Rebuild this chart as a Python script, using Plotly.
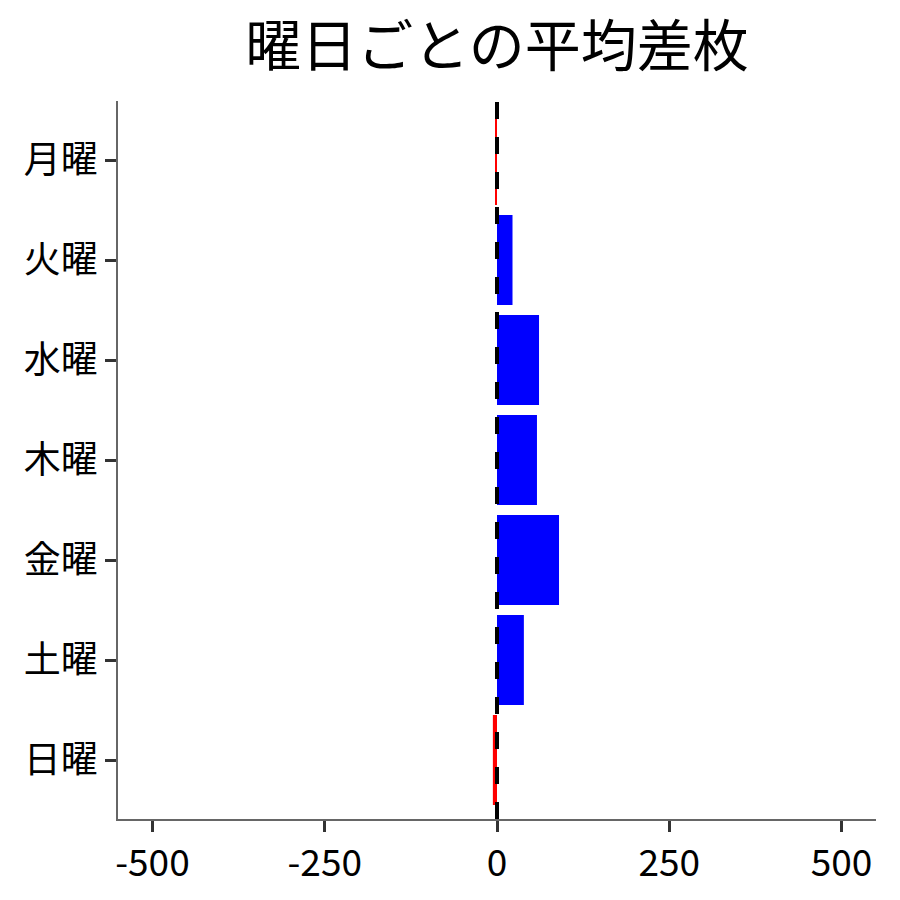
import plotly.graph_objects as go

# 曜日ごとの平均差枚
days = ["月曜", "火曜", "水曜", "木曜", "金曜", "土曜", "日曜"]
avg_diff = [-1.5, 22.5, 61, 58, 90, 39, -6]
x_ticks = [-500, -250, 0, 250, 500]

colors = ["red" if v < 0 else "blue" for v in avg_diff]

font_jp = "Noto Sans CJK JP"

fig = go.Figure()
fig.add_trace(go.Bar(
    x=avg_diff,
    y=days,
    orientation="h",
    width=0.9,
    marker=dict(color=colors, line=dict(width=0)),
    showlegend=False,
))

# zero line, dashed, on top of the bars
fig.add_shape(
    type="line", xref="x", yref="paper",
    x0=0, x1=0, y0=0, y1=1,
    line=dict(color="black", width=4, dash="17px,18px"),
    layer="above",
)

fig.update_layout(
    width=900, height=900,
    paper_bgcolor="white", plot_bgcolor="white",
    margin=dict(l=110, r=32, t=93, b=89),
    font=dict(family=font_jp, color="black", size=37),
    title=dict(
        text="曜日ごとの平均差枚",
        font=dict(family=font_jp, size=56, color="black"),
        xref="paper", x=0.5, xanchor="center",
        yref="container", y=0.957, yanchor="middle",
    ),
    bargap=0.1,
)

fig.update_xaxes(
    range=[-550, 550],
    tickvals=x_ticks,
    ticktext=[str(v) for v in x_ticks],
    showgrid=False, zeroline=False,
    showline=True, linecolor="#666666", linewidth=1.5,
    ticks="outside", ticklen=11, tickwidth=3, tickcolor="#333333",
    tickfont=dict(size=37),
)
fig.update_yaxes(
    categoryorder="array", categoryarray=days,
    range=[6.59, -0.59],
    showgrid=False, zeroline=False,
    showline=True, linecolor="#666666", linewidth=1.5,
    ticks="outside", ticklen=11, tickwidth=3, tickcolor="#333333",
    tickfont=dict(size=37),
)

fig.write_html("out.html")
